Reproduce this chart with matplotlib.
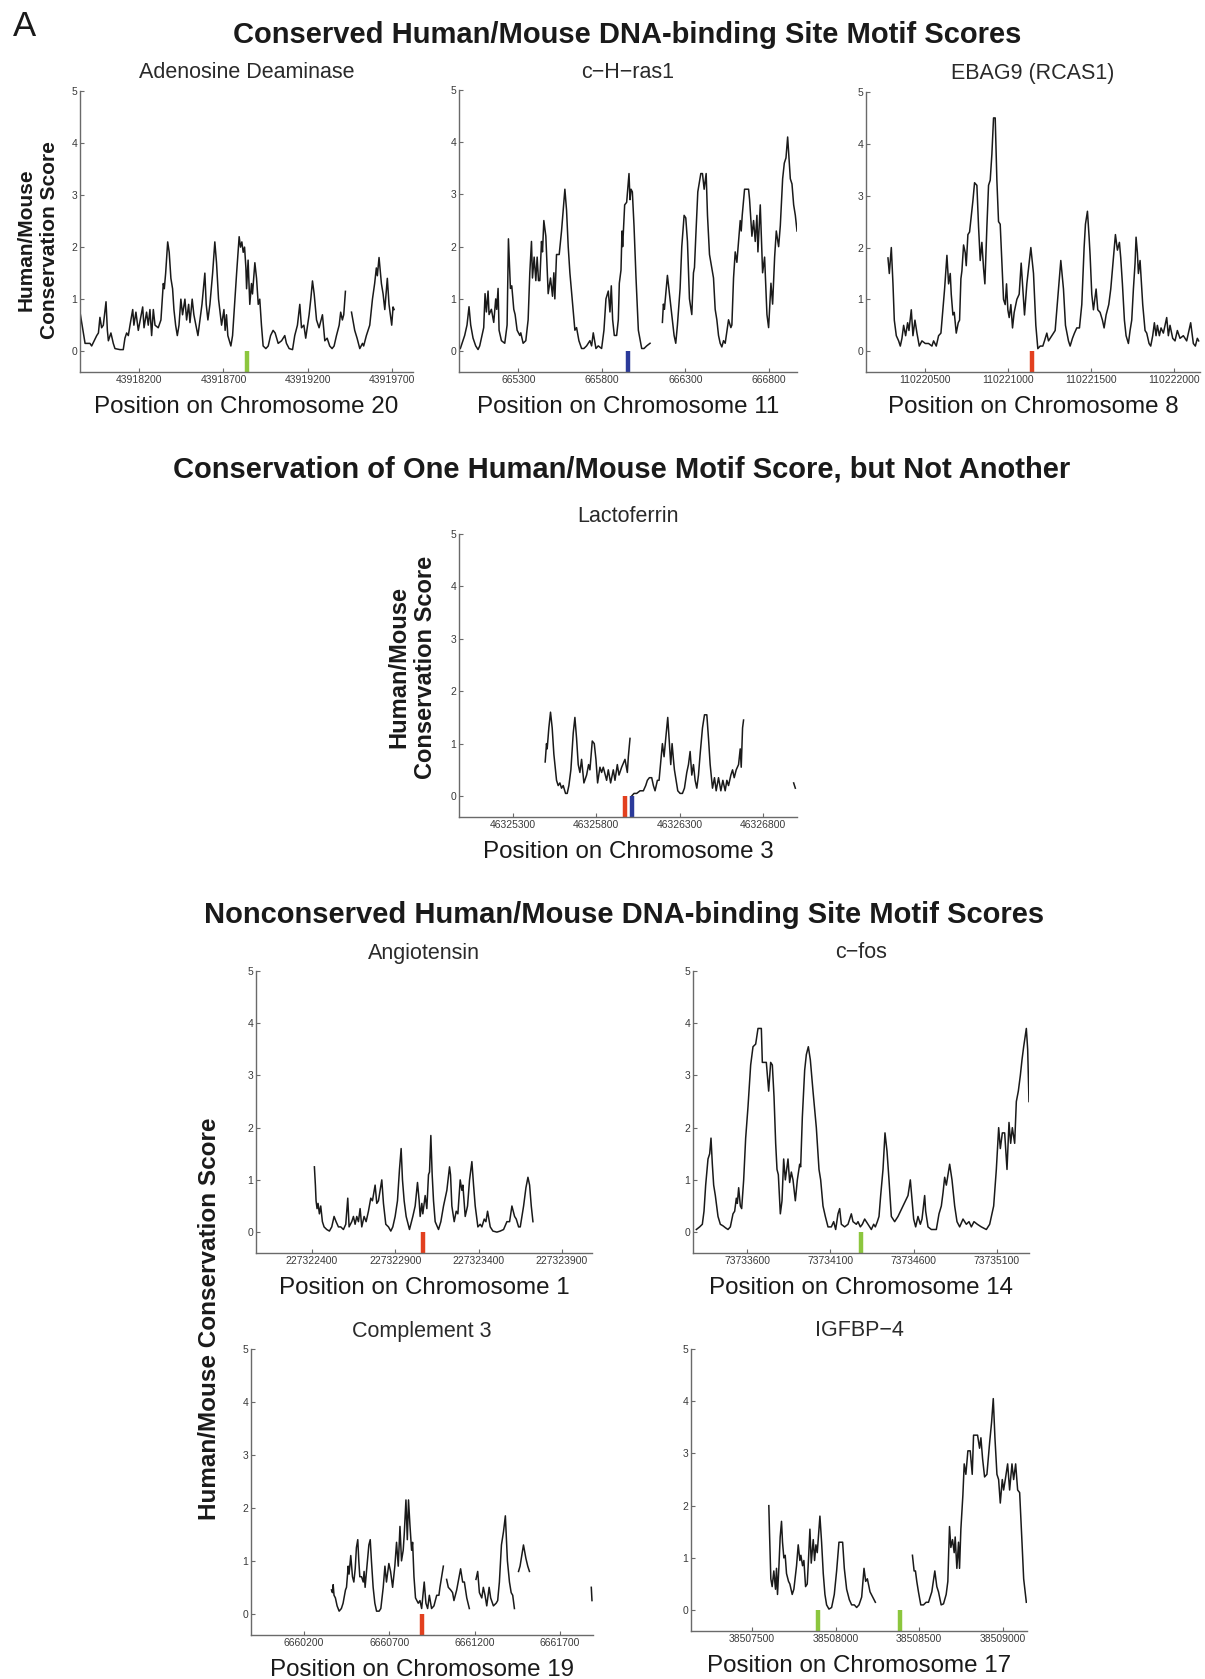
import numpy as np
import matplotlib
matplotlib.use("Agg")
import matplotlib.pyplot as plt

plt.rcParams['font.family'] = ['Liberation Sans', 'DejaVu Sans']
nan = float('nan')

# ---------------- DATA ----------------
ada_pos = [43917851, 43917881, 43917910, 43917920, 43917950, 43917960, 43917969, 43917979, 43917989, 43918005,
           43918013, 43918019, 43918034, 43918048, 43918058, 43918088, 43918107, 43918117, 43918127, 43918137,
           43918147, 43918163, 43918170, 43918182, 43918196, 43918222, 43918230, 43918245, 43918255, 43918265,
           43918275, 43918285, 43918295, 43918314, 43918330, 43918344, 43918350, 43918358, 43918370, 43918379,
           43918389, 43918399, 43918407, 43918417, 43918427, 43918437, 43918448, 43918458, 43918472, 43918482,
           43918494, 43918502, 43918515, 43918525, 43918537, 43918549, 43918561, 43918573, 43918590, 43918598,
           43918608, 43918620, 43918636, 43918649, 43918659, 43918671, 43918689, 43918703, 43918710, 43918718,
           43918726, 43918744, 43918754, 43918766, 43918778, 43918793, 43918801, 43918809, 43918817, 43918825,
           43918833, 43918837, 43918846, 43918856, 43918866, 43918872, 43918886, 43918896, 43918906, 43918915,
           43918925, 43918935, 43918951, 43918965, 43918979, 43918994, 43919006, 43919024, 43919044, 43919063,
           43919073, 43919089, 43919109, 43919122, 43919138, 43919152, 43919162, 43919176, 43919187, 43919207,
           43919217, 43919227, 43919237, 43919251, 43919266, 43919286, 43919300, 43919314, 43919329, 43919343,
           43919355, 43919369, 43919385, 43919394, 43919404, 43919412, 43919422, 43919440, 43919458, 43919477,
           43919491, 43919507, 43919523, 43919530, 43919546, 43919566, 43919582, 43919595, 43919605, 43919611,
           43919621, 43919635, 43919645, 43919655, 43919670, 43919680, 43919688, 43919696, 43919704, 43919710]
ada_score = [0.75, 0.15, 0.15, 0.1, 0.3, 0.35, 0.65, 0.45, 0.5, 0.95,
             0.4, 0.2, 0.35, 0.15, 0.05, 0.03, 0.03, 0.25, 0.35, 0.3,
             0.5, 0.8, 0.5, 0.75, 0.4, 0.85, 0.45, 0.75, 0.5, 0.8,
             0.3, 0.8, 0.5, 0.45, 0.6, 1.3, 1.2, 1.5, 2.1, 1.9,
             1.4, 1.2, 0.8, 0.5, 0.3, 0.5, 1.0, 0.7, 1.0, 0.6,
             0.9, 0.55, 1.0, 0.7, 0.5, 0.3, 0.6, 0.9, 1.5, 0.9,
             0.6, 0.9, 1.5, 2.1, 1.7, 1.0, 0.5, 0.8, 0.4, 0.7,
             0.3, 0.1, 0.3, 0.9, 1.5, 2.2, 2.0, 2.1, 1.9, 2.0,
             1.6, 1.2, 1.75, 0.9, 1.3, 1.1, 1.7, 1.4, 0.9, 1.0,
             0.5, 0.1, 0.05, 0.1, 0.3, 0.4, 0.35, 0.15, 0.2, 0.3,
             0.15, 0.05, 0.03, 0.3, 0.5, 0.9, 0.45, 0.5, 0.25, 0.7,
             1.0, 1.35, 1.1, 0.6, 0.45, 0.7, 0.2, 0.25, 0.1, 0.05,
             0.1, 0.3, 0.5, 0.75, 0.6, 0.7, 1.15, nan, 0.75, 0.4,
             0.25, 0.05, 0.15, 0.1, 0.3, 0.5, 1.0, 1.3, 1.6, 1.45,
             1.8, 1.3, 1.1, 0.8, 1.4, 0.9, 0.7, 0.5, 0.85, 0.8]

ras_pos = [664952, 664978, 664992, 665004, 665014, 665028, 665044, 665058, 665068, 665082,
           665092, 665100, 665108, 665118, 665124, 665138, 665152, 665164, 665170, 665178,
           665184, 665198, 665218, 665232, 665240, 665252, 665260, 665272, 665280, 665292,
           665308, 665314, 665328, 665344, 665358, 665368, 665378, 665384, 665394, 665404,
           665412, 665420, 665428, 665438, 665444, 665452, 665464, 665478, 665492, 665504,
           665512, 665518, 665528, 665544, 665558, 665568, 665578, 665588, 665598, 665608,
           665624, 665638, 665648, 665662, 665678, 665692, 665708, 665728, 665738, 665748,
           665764, 665778, 665798, 665812, 665824, 665838, 665848, 665856, 665864, 665874,
           665888, 665898, 665904, 665914, 665920, 665924, 665936, 665948, 665962, 665968,
           665974, 665982, 665992, 666004, 666018, 666038, 666052, 666068, 666088, 666120,
           666162, 666168, 666174, 666192, 666208, 666218, 666232, 666242, 666252, 666268,
           666278, 666292, 666302, 666312, 666324, 666338, 666348, 666354, 666362, 666374,
           666392, 666402, 666412, 666424, 666432, 666444, 666452, 666468, 666478, 666488,
           666498, 666508, 666518, 666528, 666538, 666558, 666572, 666578, 666588, 666598,
           666608, 666618, 666628, 666634, 666640, 666654, 666678, 666684, 666690, 666698,
           666708, 666718, 666728, 666734, 666748, 666762, 666774, 666788, 666798, 666812,
           666822, 666834, 666844, 666858, 666868, 666882, 666892, 666902, 666912, 666920,
           666928, 666938, 666948, 666958, 666968]
ras_score = [0.05, 0.3, 0.5, 0.85, 0.5, 0.25, 0.1, 0.03, 0.1, 0.3,
             0.45, 1.1, 0.75, 1.15, 0.7, 0.8, 0.55, 1.0, 0.8, 1.2,
             0.4, 0.2, 0.15, 0.5, 2.15, 1.2, 1.25, 0.8, 0.7, 0.4,
             0.3, 0.35, 0.15, 0.2, 0.6, 1.5, 2.1, 1.4, 1.8, 1.35,
             1.8, 1.35, 1.35, 2.1, 1.9, 2.5, 2.2, 1.1, 1.4, 1.05,
             1.5, 1.0, 1.85, 1.85, 2.3, 2.7, 3.1, 2.7, 2.0, 1.5,
             0.9, 0.4, 0.45, 0.2, 0.05, 0.05, 0.1, 0.2, 0.1, 0.35,
             0.05, 0.1, 0.05, 0.4, 1.0, 1.15, 0.75, 1.25, 0.6, 0.3,
             0.3, 0.6, 1.3, 1.55, 2.3, 2.0, 2.8, 2.85, 3.4, 2.9,
             3.1, 3.05, 2.4, 1.4, 0.4, 0.05, 0.05, 0.1, 0.15, nan,
             0.55, 0.9, 0.8, 1.45, 1.0, 0.7, 0.3, 0.15, 0.5, 1.2,
             2.0, 2.6, 2.55, 2.1, 1.0, 0.7, 1.5, 1.6, 2.2, 3.05,
             3.4, 3.4, 3.1, 3.4, 2.6, 1.85, 1.7, 1.4, 0.8, 0.6,
             0.3, 0.15, 0.08, 0.2, 0.15, 0.6, 0.45, 0.5, 1.4, 1.9,
             1.7, 2.1, 2.5, 2.3, 2.6, 3.1, 3.1, 2.9, 2.6, 2.2,
             2.5, 2.1, 2.6, 1.9, 2.8, 1.5, 1.8, 0.7, 0.45, 1.3,
             0.9, 1.8, 2.3, 2.0, 2.4, 3.3, 3.6, 3.7, 4.1, 3.7,
             3.3, 3.2, 2.8, 2.6, 2.3]

ebag_pos = [110220280, 110220288, 110220300, 110220310, 110220318, 110220330, 110220344, 110220354, 110220364, 110220374,
            110220386, 110220398, 110220406, 110220420, 110220430, 110220442, 110220454, 110220468, 110220484, 110220504,
            110220524, 110220544, 110220554, 110220570, 110220584, 110220598, 110220610, 110220620, 110220634, 110220644,
            110220654, 110220660, 110220670, 110220678, 110220690, 110220702, 110220710, 110220718, 110220724, 110220734,
            110220744, 110220750, 110220760, 110220770, 110220780, 110220790, 110220800, 110220814, 110220824, 110220834,
            110220844, 110220854, 110220862, 110220874, 110220884, 110220894, 110220904, 110220914, 110220924, 110220934,
            110220944, 110220954, 110220964, 110220974, 110220984, 110220992, 110221000, 110221008, 110221018, 110221028,
            110221038, 110221054, 110221068, 110221080, 110221090, 110221100, 110221114, 110221124, 110221138, 110221154,
            110221168, 110221180, 110221194, 110221210, 110221220, 110221234, 110221244, 110221264, 110221284, 110221304,
            110221318, 110221334, 110221346, 110221364, 110221374, 110221388, 110221400, 110221414, 110221430, 110221444,
            110221458, 110221466, 110221478, 110221488, 110221494, 110221504, 110221514, 110221530, 110221540, 110221554,
            110221568, 110221578, 110221590, 110221606, 110221618, 110221634, 110221646, 110221658, 110221670, 110221678,
            110221688, 110221700, 110221710, 110221724, 110221734, 110221744, 110221754, 110221764, 110221770, 110221778,
            110221784, 110221794, 110221804, 110221810, 110221824, 110221834, 110221848, 110221858, 110221870, 110221880,
            110221890, 110221898, 110221910, 110221920, 110221934, 110221954, 110221964, 110221974, 110221990, 110222004,
            110222018, 110222034, 110222054, 110222074, 110222084, 110222098, 110222114, 110222126, 110222138, 110222146]
ebag_score = [1.8, 1.5, 2.0, 1.3, 0.6, 0.3, 0.2, 0.1, 0.25, 0.5,
              0.3, 0.55, 0.4, 0.8, 0.3, 0.6, 0.35, 0.1, 0.2, 0.15,
              0.15, 0.1, 0.2, 0.1, 0.3, 0.35, 0.8, 1.2, 1.85, 1.3,
              1.5, 1.1, 0.7, 0.75, 0.35, 0.55, 0.6, 1.4, 1.55, 2.05,
              1.9, 1.65, 2.25, 2.3, 2.6, 2.9, 3.25, 3.2, 2.4, 1.75,
              2.1, 1.6, 1.3, 2.4, 3.2, 3.3, 3.8, 4.5, 4.5, 3.3,
              2.5, 2.45, 1.7, 1.0, 0.9, 1.3, 0.8, 0.65, 0.9, 0.45,
              0.75, 1.0, 1.1, 1.7, 1.2, 0.7, 1.3, 1.6, 2.0, 1.5,
              0.5, 0.05, 0.1, 0.1, 0.2, 0.35, 0.2, 0.3, 0.4, 1.2,
              1.75, 1.2, 0.5, 0.2, 0.1, 0.25, 0.35, 0.45, 0.45, 0.9,
              2.0, 2.45, 2.7, 2.2, 1.85, 1.1, 0.8, 1.2, 0.8, 0.75,
              0.6, 0.45, 0.7, 0.9, 1.2, 1.8, 2.25, 1.95, 2.1, 1.8,
              1.3, 0.6, 0.3, 0.15, 0.4, 0.6, 1.2, 1.7, 2.2, 1.9,
              1.5, 1.75, 1.2, 0.9, 0.4, 0.35, 0.15, 0.1, 0.3, 0.55,
              0.3, 0.5, 0.3, 0.45, 0.35, 0.65, 0.3, 0.5, 0.25, 0.2,
              0.4, 0.25, 0.3, 0.2, 0.35, 0.55, 0.15, 0.1, 0.25, 0.2]

lacto_pos = [46325494, 46325502, 46325506, 46325516, 46325526, 46325536, 46325546, 46325562, 46325572, 46325582,
             46325592, 46325602, 46325616, 46325626, 46325636, 46325648, 46325662, 46325672, 46325682, 46325692,
             46325702, 46325712, 46325726, 46325742, 46325754, 46325762, 46325776, 46325788, 46325798, 46325808,
             46325822, 46325832, 46325842, 46325862, 46325872, 46325886, 46325902, 46325912, 46325926, 46325936,
             46325952, 46325972, 46325986, 46325992, 46326002, 46326007, 46326012, 46326026, 46326042, 46326062,
             46326082, 46326096, 46326106, 46326118, 46326132, 46326142, 46326152, 46326166, 46326176, 46326186,
             46326196, 46326206, 46326216, 46326228, 46326238, 46326246, 46326254, 46326262, 46326268, 46326278,
             46326288, 46326302, 46326316, 46326328, 46326342, 46326352, 46326362, 46326372, 46326382, 46326392,
             46326402, 46326412, 46326422, 46326436, 46326448, 46326462, 46326472, 46326482, 46326496, 46326508,
             46326518, 46326532, 46326546, 46326558, 46326572, 46326582, 46326592, 46326606, 46326616, 46326626,
             46326638, 46326652, 46326662, 46326668, 46326676, 46326682, 46326800, 46326982, 46326992]
lacto_score = [0.65, 1.0, 0.9, 1.3, 1.6, 1.3, 0.8, 0.3, 0.2, 0.25,
               0.15, 0.2, 0.05, 0.05, 0.2, 0.5, 1.2, 1.5, 1.1, 0.6,
               0.45, 0.7, 0.25, 0.4, 0.6, 0.5, 1.05, 1.0, 0.7, 0.25,
               0.55, 0.45, 0.55, 0.3, 0.5, 0.25, 0.5, 0.3, 0.6, 0.4,
               0.55, 0.7, 0.45, 0.75, 1.1, nan, 0.0, 0.05, 0.05, 0.1,
               0.1, 0.2, 0.3, 0.35, 0.35, 0.2, 0.1, 0.3, 0.3, 0.65,
               1.0, 0.75, 1.1, 1.5, 1.0, 0.6, 1.0, 0.7, 0.5, 0.3,
               0.1, 0.05, 0.05, 0.15, 0.45, 0.6, 0.85, 0.4, 0.6, 0.3,
               0.15, 0.4, 0.8, 1.3, 1.55, 1.55, 1.1, 0.6, 0.15, 0.35,
               0.1, 0.35, 0.1, 0.3, 0.1, 0.3, 0.2, 0.4, 0.5, 0.35,
               0.5, 0.6, 0.9, 0.55, 1.3, 1.45, nan, 0.25, 0.15]

angio_pos = [227322416, 227322422, 227322426, 227322432, 227322438, 227322446, 227322454, 227322464, 227322474, 227322490,
             227322506, 227322520, 227322534, 227322546, 227322560, 227322574, 227322590, 227322604, 227322616, 227322624,
             227322640, 227322650, 227322660, 227322670, 227322680, 227322690, 227322700, 227322714, 227322726, 227322740,
             227322754, 227322764, 227322780, 227322790, 227322800, 227322820, 227322830, 227322844, 227322860, 227322874,
             227322886, 227322900, 227322914, 227322926, 227322936, 227322944, 227322954, 227322966, 227322986, 227323006,
             227323020, 227323034, 227323044, 227323050, 227323060, 227323066, 227323080, 227323090, 227323100, 227323106,
             227323114, 227323122, 227323130, 227323140, 227323160, 227323174, 227323190, 227323210, 227323226, 227323232,
             227323240, 227323254, 227323266, 227323276, 227323290, 227323300, 227323306, 227323320, 227323334, 227323346,
             227323360, 227323370, 227323380, 227323396, 227323410, 227323420, 227323434, 227323444, 227323454, 227323470,
             227323486, 227323510, 227323530, 227323550, 227323570, 227323586, 227323600, 227323616, 227323626, 227323640,
             227323650, 227323670, 227323684, 227323696, 227323706, 227323716, 227323726]
angio_score = [1.25, 0.9, 0.6, 0.45, 0.55, 0.35, 0.5, 0.2, 0.1, 0.05,
               0.02, 0.1, 0.3, 0.2, 0.1, 0.1, 0.05, 0.15, 0.65, 0.1,
               0.2, 0.3, 0.15, 0.3, 0.2, 0.45, 0.1, 0.3, 0.2, 0.4,
               0.65, 0.6, 0.9, 0.55, 0.6, 1.0, 0.55, 0.15, 0.1, 0.02,
               0.1, 0.3, 0.6, 1.2, 1.6, 1.0, 0.6, 0.3, 0.05, 0.3,
               0.5, 0.95, 0.6, 0.3, 0.55, 0.35, 0.7, 0.45, 1.1, 1.15,
               1.85, 1.1, 0.6, 0.2, 0.05, 0.2, 0.5, 0.8, 1.25, 1.1,
               0.5, 0.2, 0.4, 0.35, 1.0, 0.8, 0.9, 0.3, 0.5, 1.0,
               1.35, 0.9, 0.5, 0.1, 0.15, 0.1, 0.25, 0.2, 0.4, 0.1,
               0.02, 0.0, 0.02, 0.05, 0.2, 0.2, 0.5, 0.3, 0.25, 0.1,
               0.1, 0.5, 0.85, 1.05, 0.9, 0.5, 0.2]

fos_pos = [73733296, 73733316, 73733332, 73733342, 73733352, 73733366, 73733376, 73733384, 73733392, 73733400,
           73733410, 73733426, 73733440, 73733456, 73733472, 73733486, 73733500, 73733516, 73733526, 73733536,
           73733542, 73733550, 73733560, 73733568, 73733580, 73733592, 73733606, 73733622, 73733636, 73733652,
           73733666, 73733686, 73733692, 73733716, 73733730, 73733742, 73733752, 73733762, 73733772, 73733780,
           73733788, 73733800, 73733810, 73733820, 73733830, 73733846, 73733856, 73733866, 73733876, 73733890,
           73733902, 73733916, 73733922, 73733932, 73733946, 73733956, 73733968, 73733980, 73733996, 73734016,
           73734032, 73734042, 73734056, 73734070, 73734086, 73734106, 73734120, 73734132, 73734146, 73734156,
           73734166, 73734186, 73734206, 73734226, 73734236, 73734256, 73734266, 73734280, 73734292, 73734306,
           73734326, 73734346, 73734360, 73734370, 73734382, 73734392, 73734402, 73734416, 73734428, 73734440,
           73734452, 73734466, 73734486, 73734506, 73734536, 73734566, 73734580, 73734592, 73734600, 73734612,
           73734626, 73734640, 73734650, 73734666, 73734672, 73734686, 73734706, 73734736, 73734752, 73734766,
           73734776, 73734786, 73734796, 73734816, 73734830, 73734846, 73734860, 73734876, 73734896, 73734916,
           73734932, 73734946, 73734962, 73734982, 73735006, 73735036, 73735056, 73735080, 73735096, 73735110,
           73735120, 73735132, 73735146, 73735160, 73735172, 73735182, 73735192, 73735206, 73735216, 73735228,
           73735240, 73735250, 73735260, 73735276, 73735284, 73735292]
fos_score = [0.05, 0.1, 0.15, 0.4, 0.9, 1.4, 1.5, 1.8, 1.3, 0.9,
             0.7, 0.3, 0.15, 0.12, 0.08, 0.05, 0.1, 0.35, 0.4, 0.65,
             0.55, 0.85, 0.5, 0.45, 1.0, 1.8, 2.4, 3.2, 3.55, 3.6,
             3.9, 3.9, 3.25, 3.25, 2.7, 3.25, 3.2, 2.6, 1.7, 1.2,
             1.1, 0.35, 0.6, 1.4, 1.0, 1.4, 0.95, 1.15, 1.0, 0.6,
             1.0, 1.3, 1.25, 2.2, 3.1, 3.4, 3.55, 3.3, 2.7, 2.0,
             1.2, 1.0, 0.5, 0.3, 0.1, 0.1, 0.2, 0.05, 0.35, 0.45,
             0.15, 0.1, 0.15, 0.35, 0.2, 0.15, 0.2, 0.1, 0.15, 0.25,
             0.15, 0.05, 0.15, 0.1, 0.2, 0.3, 0.7, 1.2, 1.9, 1.55,
             1.0, 0.3, 0.2, 0.3, 0.5, 0.7, 1.0, 0.55, 0.25, 0.1,
             0.3, 0.15, 0.25, 0.7, 0.4, 0.1, 0.05, 0.05, 0.35, 0.5,
             0.75, 1.05, 0.9, 1.3, 1.0, 0.5, 0.2, 0.1, 0.25, 0.15,
             0.2, 0.1, 0.2, 0.15, 0.1, 0.05, 0.15, 0.5, 1.2, 2.0,
             1.6, 1.9, 1.9, 1.2, 2.1, 1.7, 2.0, 1.7, 2.5, 2.7,
             3.0, 3.3, 3.55, 3.9, 3.5, 2.5]

c3_pos = [6660362, 6660368, 6660372, 6660377, 6660385, 6660395, 6660407, 6660420, 6660430, 6660444,
          6660450, 6660460, 6660465, 6660475, 6660485, 6660493, 6660501, 6660508, 6660516, 6660522,
          6660528, 6660538, 6660548, 6660553, 6660559, 6660567, 6660581, 6660589, 6660596, 6660606,
          6660616, 6660626, 6660641, 6660651, 6660665, 6660675, 6660684, 6660698, 6660708, 6660720,
          6660733, 6660743, 6660753, 6660763, 6660772, 6660782, 6660788, 6660798, 6660806, 6660813,
          6660821, 6660831, 6660837, 6660845, 6660854, 6660870, 6660880, 6660890, 6660905, 6660915,
          6660925, 6660935, 6660948, 6660962, 6660978, 6660991, 6660997, 6661017, 6661026, 6661036,
          6661046, 6661060, 6661071, 6661079, 6661095, 6661118, 6661130, 6661140, 6661154, 6661169,
          6661190, 6661208, 6661218, 6661228, 6661242, 6661251, 6661261, 6661271, 6661285, 6661294,
          6661310, 6661326, 6661335, 6661345, 6661357, 6661369, 6661380, 6661392, 6661404, 6661414,
          6661423, 6661433, 6661445, 6661457, 6661466, 6661486, 6661500, 6661511, 6661521, 6661700,
          6661883, 6661887]
c3_score = [0.45, 0.4, 0.55, 0.35, 0.3, 0.15, 0.05, 0.1, 0.2, 0.45,
            0.5, 0.9, 0.75, 1.1, 0.7, 0.6, 0.85, 1.25, 1.4, 1.0,
            0.7, 0.7, 0.6, 0.8, 0.5, 0.8, 1.3, 1.4, 1.0, 0.5,
            0.2, 0.05, 0.05, 0.1, 0.5, 0.9, 0.6, 0.95, 0.8, 0.5,
            0.9, 1.35, 0.9, 1.65, 1.0, 1.2, 1.5, 2.15, 1.4, 2.15,
            1.7, 1.2, 1.35, 0.7, 0.3, 0.2, 0.25, 0.1, 0.6, 0.2,
            0.1, 0.35, 0.1, 0.15, 0.35, 0.35, 0.5, 0.9, nan, 0.65,
            0.5, 0.45, 0.4, 0.25, 0.45, 0.85, 0.6, 0.6, 0.3, 0.1,
            nan, 0.65, 0.8, 0.4, 0.3, 0.5, 0.35, 0.15, 0.5, 0.3,
            0.15, 0.2, 0.25, 0.6, 1.3, 1.55, 1.85, 1.0, 0.6, 0.4,
            0.35, 0.1, nan, 0.8, 0.9, 1.3, 1.05, 0.9, 0.8, nan,
            0.5, 0.25]

igf_pos = [38507600, 38507604, 38507612, 38507620, 38507630, 38507640, 38507646, 38507652, 38507660, 38507668,
           38507676, 38507682, 38507690, 38507698, 38507706, 38507718, 38507726, 38507740, 38507750, 38507766,
           38507776, 38507786, 38507792, 38507802, 38507810, 38507820, 38507830, 38507838, 38507846, 38507854,
           38507866, 38507874, 38507882, 38507890, 38507906, 38507916, 38507926, 38507936, 38507946, 38507960,
           38507976, 38507992, 38508006, 38508020, 38508042, 38508052, 38508066, 38508082, 38508096, 38508112,
           38508126, 38508140, 38508156, 38508170, 38508180, 38508190, 38508206, 38508222, 38508238, 38508350,
           38508460, 38508470, 38508478, 38508486, 38508496, 38508510, 38508526, 38508542, 38508556, 38508576,
           38508594, 38508606, 38508616, 38508632, 38508646, 38508662, 38508672, 38508682, 38508690, 38508700,
           38508710, 38508716, 38508726, 38508736, 38508742, 38508750, 38508762, 38508770, 38508780, 38508792,
           38508806, 38508818, 38508826, 38508850, 38508862, 38508870, 38508880, 38508892, 38508906, 38508922,
           38508934, 38508944, 38508954, 38508966, 38508976, 38508986, 38508998, 38509006, 38509016, 38509030,
           38509042, 38509056, 38509066, 38509078, 38509090, 38509102, 38509116, 38509126, 38509142]
igf_score = [2.0, 1.5, 0.6, 0.45, 0.75, 0.4, 0.8, 0.3, 0.8, 1.4,
             1.7, 1.3, 1.0, 1.05, 0.7, 0.55, 0.5, 0.3, 0.4, 0.85,
             1.25, 0.95, 1.05, 0.85, 0.95, 0.45, 0.5, 1.0, 1.55, 0.9,
             1.35, 0.95, 1.25, 1.1, 1.8, 1.3, 0.7, 0.3, 0.1, 0.02,
             0.05, 0.3, 0.75, 1.3, 1.3, 0.8, 0.4, 0.2, 0.1, 0.1,
             0.05, 0.1, 0.25, 0.8, 0.55, 0.6, 0.35, 0.25, 0.15, nan,
             1.05, 0.75, 0.75, 0.55, 0.35, 0.1, 0.1, 0.15, 0.15, 0.35,
             0.75, 0.45, 0.35, 0.1, 0.12, 0.3, 0.55, 1.6, 1.2, 1.35,
             1.1, 1.4, 0.8, 1.3, 0.8, 1.55, 2.2, 2.8, 2.6, 3.05,
             3.05, 2.6, 3.35, 3.35, 3.1, 3.3, 2.9, 2.55, 2.6, 3.2,
             3.6, 4.05, 3.3, 2.6, 2.5, 2.05, 2.5, 2.3, 2.5, 2.8,
             2.3, 2.8, 2.5, 2.8, 2.3, 2.25, 1.3, 0.6, 0.15]

ada_sites, ras_sites, ebag_sites = [43918841], [665955], [110221144]
lacto_sites = [46325972, 46326012]
angio_sites, fos_sites, c3_sites = [227323068], [73734284], [6660894]
igf_sites = [38507894, 38508386]

ada_ticks = [43918200, 43918700, 43919200, 43919700]
ras_ticks = [665300, 665800, 666300, 666800]
ebag_ticks = [110220500, 110221000, 110221500, 110222000]
lacto_ticks = [46325300, 46325800, 46326300, 46326800]
angio_ticks = [227322400, 227322900, 227323400, 227323900]
fos_ticks = [73733600, 73734100, 73734600, 73735100]
c3_ticks = [6660200, 6660700, 6661200, 6661700]
igf_ticks = [38507500, 38508000, 38508500, 38509000]
score_ticks = [0, 1, 2, 3, 4, 5]

GREEN, BLUE, RED = '#8cc63e', '#2b3a9a', '#e2401f'

# ---------------- LAYOUT ----------------
W, H = 1205, 1679
fig = plt.figure(figsize=(W / 100, H / 100), dpi=100)
fig.patch.set_facecolor('white')


def fx(x):
    return x / W


def fy(y):
    return 1 - y / H


def panel(l, t, r, b, pos, score, sites, colors, ticks, xlim, title, xlabel):
    ax = fig.add_axes([fx(l), fy(b), fx(r - l), (b - t) / H])
    ax.plot(pos, score, color='#1a1a1a', lw=1.1)
    for s, c in zip(sites, colors):
        ax.vlines(s, -0.4, 0, color=c, lw=3.2)
    ax.set_xlim(*xlim)
    ax.set_ylim(-0.4, 5)
    ax.set_xticks(ticks)
    ax.set_xticklabels([str(t) for t in ticks])
    ax.set_yticks(score_ticks)
    ax.set_yticklabels([str(t) for t in score_ticks])
    for sp in ['top', 'right']:
        ax.spines[sp].set_visible(False)
    for sp in ['left', 'bottom']:
        ax.spines[sp].set_color('#6a6a6a')
        ax.spines[sp].set_linewidth(1.0)
    ax.tick_params(direction='in', length=3, width=0.8, colors='#6a6a6a',
                   labelsize=7.5, labelcolor='#3a3a3a', pad=2)
    ax.set_facecolor('none')
    fig.text(fx((l + r) / 2), fy(t - 18), title, ha='center', va='center',
             fontsize=15.5, color='#2a2a2a')
    fig.text(fx((l + r) / 2), fy(b + 35), xlabel, ha='center', va='center',
             fontsize=17.4, color='#1a1a1a')
    return ax


panel(80, 91, 413, 372, ada_pos, ada_score, ada_sites, [GREEN], ada_ticks,
      (43917851, 43919822), 'Adenosine Deaminase', 'Position on Chromosome 20')
panel(459, 90, 797, 372, ras_pos, ras_score, ras_sites, [BLUE], ras_ticks,
      (664944, 666968), 'c\u2212H\u2212ras1', 'Position on Chromosome 11')
panel(866, 92, 1200, 372, ebag_pos, ebag_score, ebag_sites, [RED], ebag_ticks,
      (110220148, 110222154), 'EBAG9 (RCAS1)', 'Position on Chromosome 8')
panel(459, 534, 797, 817, lacto_pos, lacto_score, lacto_sites, [RED, BLUE], lacto_ticks,
      (46324978, 46327002), 'Lactoferrin', 'Position on Chromosome 3')
panel(256, 971, 592, 1253, angio_pos, angio_score, angio_sites, [RED], angio_ticks,
      (227322066, 227324080), 'Angiotensin', 'Position on Chromosome 1')
panel(693, 971, 1029, 1253, fos_pos, fos_score, fos_sites, [GREEN], fos_ticks,
      (73733276, 73735292), 'c\u2212fos', 'Position on Chromosome 14')
panel(251, 1349, 593, 1635, c3_pos, c3_score, c3_sites, [RED], c3_ticks,
      (6659891, 6661893), 'Complement 3', 'Position on Chromosome 19')
panel(691, 1349, 1027, 1631, igf_pos, igf_score, igf_sites, [GREEN, GREEN], igf_ticks,
      (38507134, 38509146), 'IGFBP\u22124', 'Position on Chromosome 17')

# section titles
fig.text(fx(627), fy(35), 'Conserved Human/Mouse DNA-binding Site Motif Scores',
         ha='center', va='center', fontsize=21, fontweight='bold', color='#1a1a1a')
fig.text(fx(622), fy(469), 'Conservation of One Human/Mouse Motif Score, but Not Another',
         ha='center', va='center', fontsize=21, fontweight='bold', color='#1a1a1a')
fig.text(fx(624), fy(915), 'Nonconserved Human/Mouse DNA-binding Site Motif Scores',
         ha='center', va='center', fontsize=21, fontweight='bold', color='#1a1a1a')
fig.text(fx(13), fy(27), 'A', ha='left', va='center', fontsize=25, color='#1a1a1a')

# y labels
fig.text(fx(38), fy(240), 'Human/Mouse\nConservation Score', rotation=90,
         ha='center', va='center', fontsize=15, fontweight='bold', color='#1a1a1a',
         linespacing=1.25)
fig.text(fx(412), fy(667), 'Human/Mouse\nConservation Score', rotation=90,
         ha='center', va='center', fontsize=17, fontweight='bold', color='#1a1a1a',
         linespacing=1.2)
fig.text(fx(210), fy(1319), 'Human/Mouse Conservation Score', rotation=90,
         ha='center', va='center', fontsize=17.5, fontweight='bold', color='#1a1a1a')

fig.savefig('out.png', dpi=100, facecolor='white')
